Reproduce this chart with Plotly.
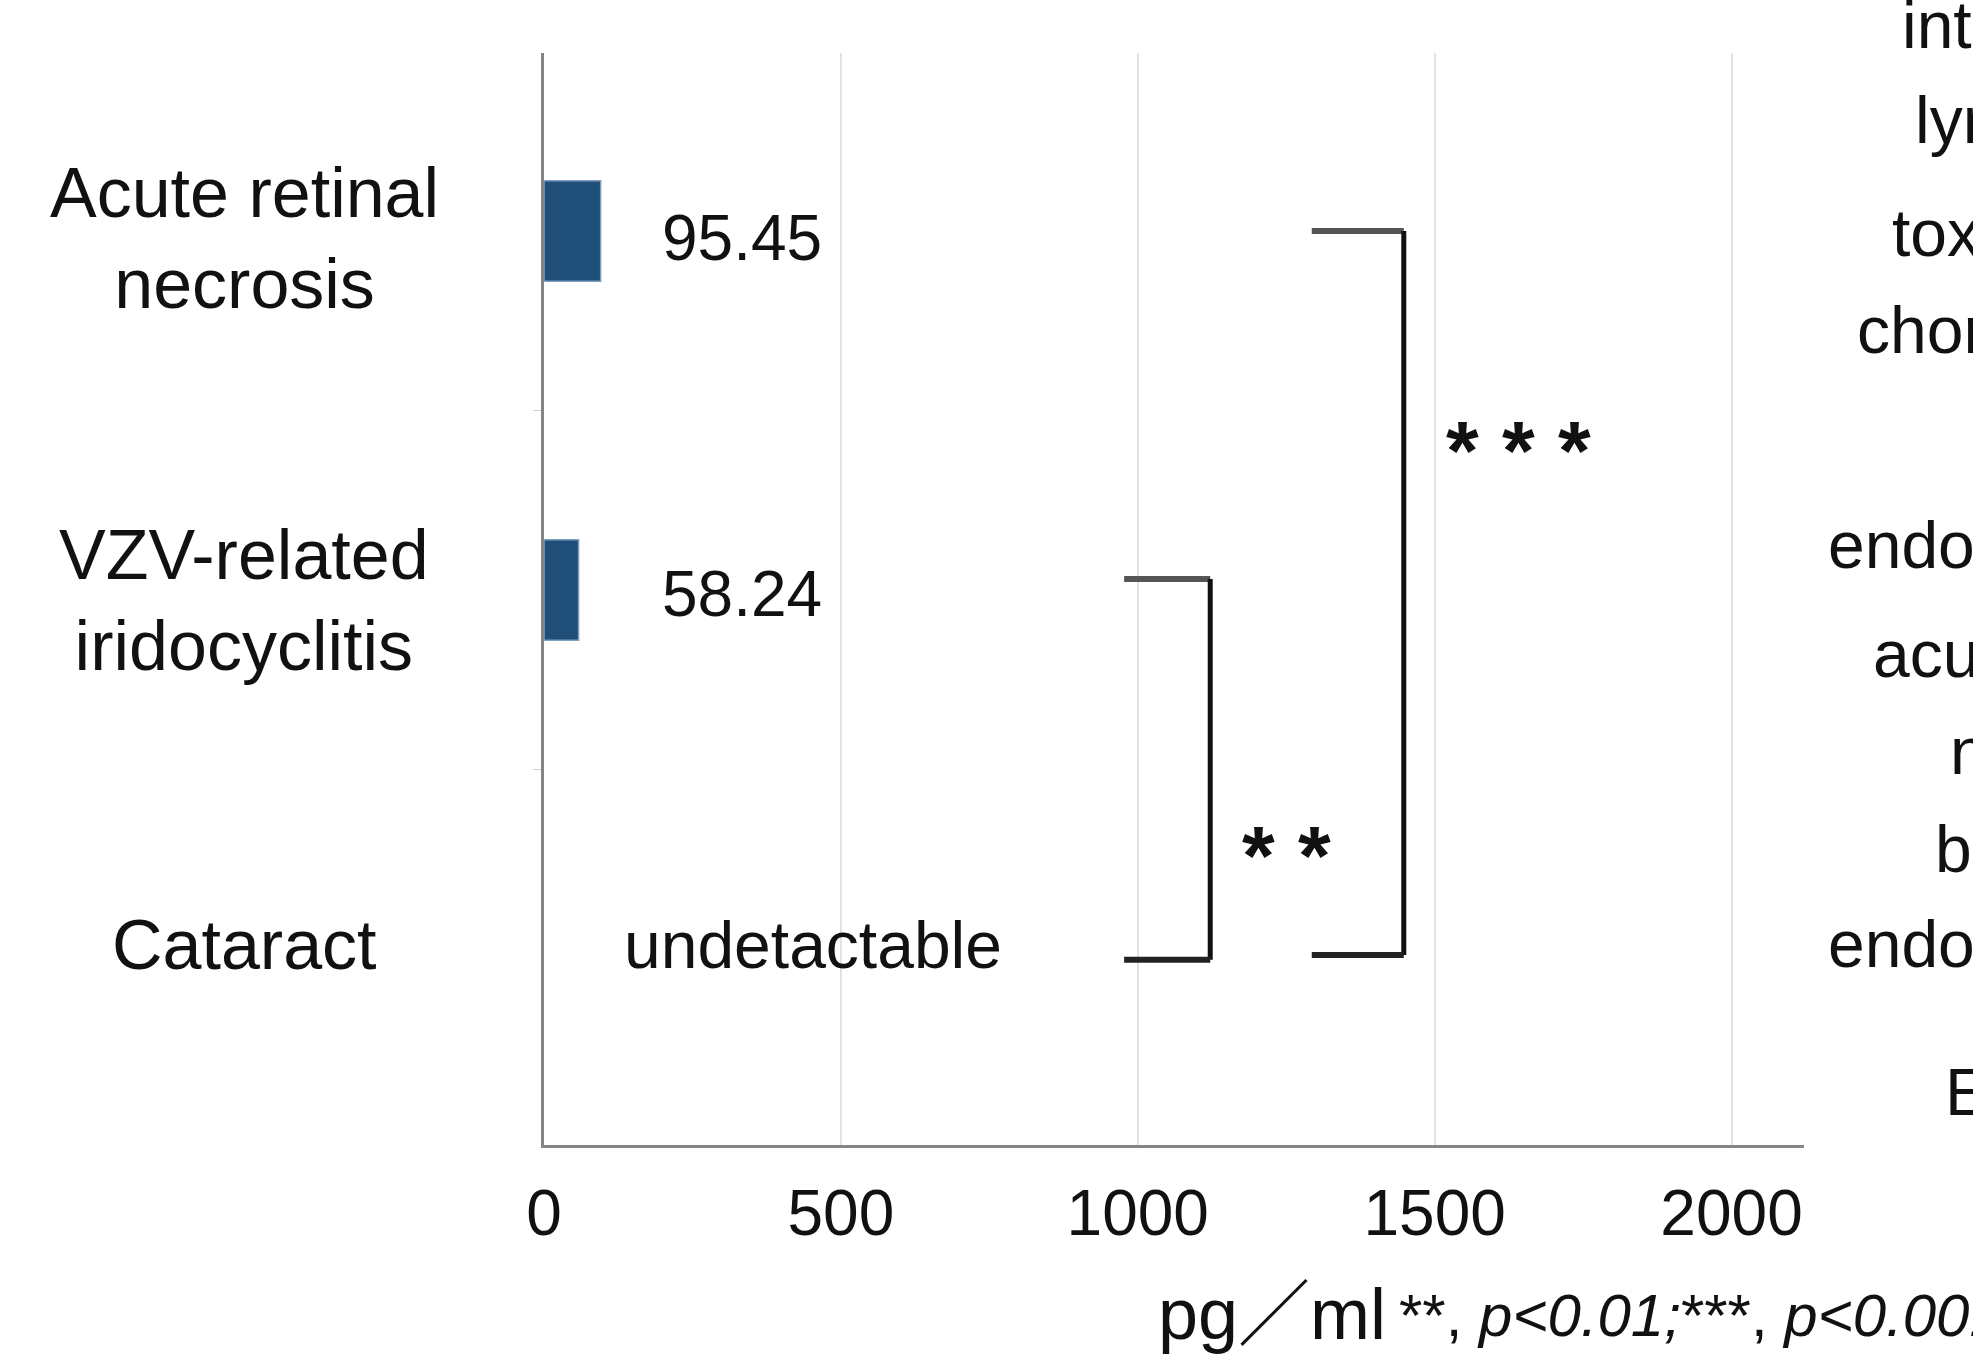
import plotly.graph_objects as go

# ---------------- data ----------------
categories = ["Acute retinal necrosis", "VZV-related iridocyclitis", "Cataract"]
category_labels = ["Acute retinal<br>necrosis", "VZV-related<br>iridocyclitis", "Cataract"]
values = [95.45, 58.24, None]
value_labels = ["95.45", "58.24", "undetactable"]
x_ticks = [0, 500, 1000, 1500, 2000]
x_tick_labels = ["0", "500", "1000", "1500", "2000"]
unit_label = "pg／ml"
p_note = "**, <i>p&lt;0.01;</i>***, <i>p&lt;0.001</i>"
# significance brackets: (top category index, bottom category index, stars)
comparisons = [(1, 2, "* *"), (0, 2, "* * *")]
# fragments of neighbouring panel's labels (cut off at right edge)
side_labels = ["intraocular", "lymphoma", "toxoplasma", "chorioretinitis",
               "endophthalmitis", "acute retinal", "necrosis", "bacterial",
               "endophthalmitis", "E"]

# ---------------- layout constants ----------------
W, H = 1973, 1358
ML, MR, MT, MB = 544, 169, 53, 213
PW, PH = W - ML - MR, H - MT - MB
XMAX = 2122
Y_RANGE = [2.546, -0.496]
BAR_COLOR = "#1f4e79"
LABEL_FONT = "Liberation Sans, Arial, sans-serif"
UNIT_FONT = "Liberation Sans, Noto Sans CJK JP, sans-serif"

fig = go.Figure()
fig.add_trace(go.Bar(
    y=categories, x=values, orientation="h", width=0.28,
    marker=dict(color=BAR_COLOR, line=dict(color="#7f9fc2", width=1.5)),
    hoverinfo="skip", showlegend=False,
))

ann = []
# category labels (centered, left of axis)
label_dy = [0.02, 0.03, -0.01]
for cat, lab, dy in zip(categories, category_labels, label_dy):
    ann.append(dict(x=(244 - ML) / PW, xref="paper", y=categories.index(cat) + dy, yref="y",
                    text=lab, showarrow=False, xanchor="center", yanchor="middle",
                    align="center", font=dict(family=LABEL_FONT, size=70, color="#111")))

# value labels
val_pos = [(196, "left", 0.02), (196, "left", 0.01), (453, "center", -0.01)]
for i, (txt, (xv, anc, dy)) in enumerate(zip(value_labels, val_pos)):
    ann.append(dict(x=xv, xref="x", y=i + dy, yref="y",
                    text=txt, showarrow=False, xanchor=anc, yanchor="middle",
                    font=dict(family=LABEL_FONT, size=64 if i < 2 else 66, color="#111")))

# significance brackets
shapes = []
bracket_geo = {  # (x_left, x_right, y_top_offset, y_bottom_offset, star_x, star_y)
    "* *": (977, 1122, -0.031, 0.03, 1250, 1.74),
    "* * *": (1293, 1448, 0.0, 0.017, 1642, 0.612),
}
for top, bot, stars in comparisons:
    xl, xr, dt, db, sx, sy = bracket_geo[stars]
    yt, yb = top + dt, bot + db
    shapes.append(dict(type="line", xref="x", yref="y", x0=xl, x1=xr, y0=yt, y1=yt,
                       line=dict(color="#555", width=6)))
    shapes.append(dict(type="line", xref="x", yref="y", x0=xr, x1=xr, y0=yt, y1=yb,
                       line=dict(color="#111", width=5)))
    shapes.append(dict(type="line", xref="x", yref="y", x0=xl, x1=xr, y0=yb, y1=yb,
                       line=dict(color="#222", width=6)))
    ann.append(dict(x=sx, xref="x", y=sy, yref="y", text=stars, showarrow=False,
                    xanchor="center", yanchor="middle",
                    font=dict(family=LABEL_FONT, size=84, color="#111", weight="bold")))

# unit + p-value note
ann.append(dict(x=(1156 - ML) / PW, xref="paper", y=(MT + PH - 1314) / PH, yref="paper",
                text=unit_label, showarrow=False, xanchor="left", yanchor="middle",
                font=dict(family=UNIT_FONT, size=72, color="#111")))
ann.append(dict(x=(1397 - ML) / PW, xref="paper", y=(MT + PH - 1316) / PH, yref="paper",
                text=p_note, showarrow=False, xanchor="left", yanchor="middle",
                font=dict(family=LABEL_FONT, size=60, color="#111")))

# neighbouring panel fragments
side_pos = [(1900, 25), (1913, 120), (1890, 233), (1855, 330), (1826, 545),
            (1871, 654), (1948, 751), (1933, 849), (1826, 944), (1943, 1092)]
for txt, (px, py) in zip(side_labels, side_pos):
    ann.append(dict(x=(px - ML) / PW, xref="paper", y=(MT + PH - py) / PH, yref="paper",
                    text=txt, showarrow=False, xanchor="left", yanchor="middle",
                    font=dict(family=LABEL_FONT, size=66, color="#111")))

fig.update_layout(
    width=W, height=H, paper_bgcolor="white", plot_bgcolor="white",
    margin=dict(l=ML, r=MR, t=MT, b=MB, pad=0, autoexpand=False),
    annotations=ann, shapes=shapes,
)
fig.update_xaxes(range=[0, XMAX], tickvals=x_ticks, ticktext=x_tick_labels,
                 showgrid=True, gridcolor="#e3e3e3", gridwidth=2, zeroline=False,
                 showline=True, linecolor="#858585", linewidth=3,
                 ticks="", ticklabelstandoff=10,
                 tickfont=dict(family=LABEL_FONT, size=64, color="#111"))
fig.update_yaxes(type="category", categoryorder="array", categoryarray=categories,
                 range=Y_RANGE, showticklabels=False, showgrid=False, zeroline=False,
                 showline=True, linecolor="#858585", linewidth=3,
                 ticks="outside", tickson="boundaries", ticklen=8, tickcolor="#cfcfcf")

fig.write_html("out.html", config={"displayModeBar": False},
               post_script="document.body.style.margin='0px';")
